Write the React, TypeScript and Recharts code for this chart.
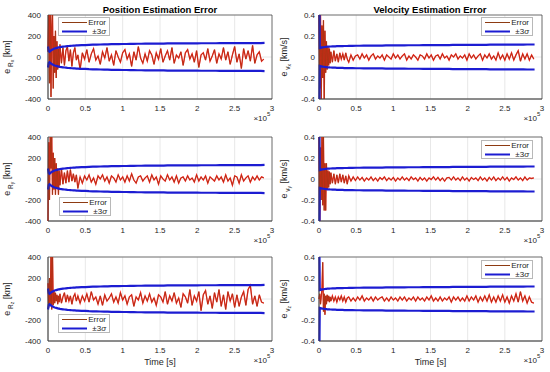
import { CartesianGrid, Line, LineChart, ReferenceArea, XAxis, YAxis } from "recharts";

// sample times in kiloseconds for the 3-sigma bounds
const SIGMA_TIME_KS = [
  0, 1, 2, 3, 4, 5, 6, 7, 8, 9, 10, 11, 12, 13, 14, 15, 16,
  18, 20, 22, 24, 26, 28, 30, 32, 34, 36, 38, 40,
  45, 50, 55, 60, 65, 70, 75, 80, 85, 90, 95, 100, 105, 110, 115, 120, 125, 130, 135, 140, 145,
  150, 155, 160, 165, 170, 175, 180, 185, 190, 195, 200, 205, 210, 215, 220, 225, 230, 235, 240, 245,
  250, 255, 260, 265, 270, 275, 280, 285, 290,
];

// sample times in kiloseconds for the estimation errors
const ERR_TIME_KS = [
  0, 1, 2, 3, 4, 5, 6, 7, 8, 9, 10, 11, 12, 13, 14, 15, 16,
  18, 20, 22, 24, 26, 28, 30, 32, 34, 36, 38, 40,
  43, 46, 49, 52, 55, 58, 61, 64, 67, 70,
  73, 76, 79, 82, 85, 88, 91, 94, 97, 100,
  103, 106, 109, 112, 115, 118, 121, 124, 127, 130,
  133, 136, 139, 142, 145, 148, 151, 154, 157, 160,
  163, 166, 169, 172, 175, 178, 181, 184, 187, 190,
  193, 196, 199, 202, 205, 208, 211, 214, 217, 220,
  223, 226, 229, 232, 235, 238, 241, 244, 247, 250,
  253, 256, 259, 262, 265, 268, 271, 274, 277, 280,
  283, 286, 289,
];

const X_TICKS = [0, 50000, 100000, 150000, 200000, 250000, 300000];
const POS_TICKS = [-400, -200, 0, 200, 400];
const VEL_TICKS = [-0.4, -0.2, 0, 0.2, 0.4];

// 3-sigma bounds
const POS_SIGMA3 = [
  100, 55, 50, 56, 62, 67, 71, 75, 78, 81, 83, 85, 87, 89, 91, 92, 94,
  96, 98, 100, 102, 104, 105, 106, 107, 108, 109, 110, 111,
  113, 114, 116, 117, 118, 119, 120, 121, 122, 122,
  123, 124, 124, 125, 125, 126, 126, 127, 127, 127,
  128, 128, 128, 129, 129, 129, 129, 130, 130, 130,
  130, 130, 131, 131, 131, 131, 131, 132, 132, 132,
  132, 132, 132, 133, 133, 133, 133, 133, 133, 134,
];

const VEL_SIGMA3 = [
  1.0, 0.085, 0.087, 0.089, 0.091, 0.092, 0.093, 0.094, 0.095, 0.096, 0.097, 0.098, 0.098, 0.099, 0.099, 0.1, 0.1,
  0.101, 0.102, 0.102, 0.103, 0.103, 0.104, 0.104, 0.104, 0.105, 0.105, 0.105, 0.106,
  0.106, 0.107, 0.107, 0.108, 0.108, 0.108, 0.109, 0.109, 0.109, 0.11,
  0.11, 0.11, 0.111, 0.111, 0.111, 0.112, 0.112, 0.112, 0.112, 0.113,
  0.113, 0.113, 0.113, 0.114, 0.114, 0.114, 0.114, 0.115, 0.115, 0.115,
  0.115, 0.115, 0.116, 0.116, 0.116, 0.116, 0.116, 0.117, 0.117, 0.117,
  0.117, 0.117, 0.118, 0.118, 0.118, 0.118, 0.118, 0.119, 0.119, 0.119,
];

// position errors [km]
const ERR_RX = [
  50, 420, -250, 450, -380, 300, 450, -300, 200, -150, 250, -200, 150, -120, 80, -100, 120,
  -60, 90, -80, 60, 100, -40, 70, -90, 40, 90, -30, 20,
  -120, 40, -20, 70, -50, 30, 80, -30, 10, -70,
  50, -10, 90, -40, 20, -80, 60, 0, -50, 40,
  70, -20, 30, -90, 50, -30, 100, -10, -60, 30,
  -40, 60, 20, -70, 40, -20, 80, -50, 10, 60,
  -30, 90, -60, 20, -10, 50, -80, 40, 70, -20,
  30, -50, 60, -100, 20, 40, -30, 80, -40, 10,
  70, -60, 30, -20, 90, -30, 50, -70, 20, 100,
  -50, 30, -110, 80, -20, 60, -40, 110, -60, 20,
  50, -40, -20,
];

const ERR_RY = [
  -400, 350, -200, 420, 100, 430, -150, 250, -100, 200, -150, 150, -80, 100, -150, 80, -60,
  100, -50, 60, -40, 80, -30, 90, -20, 50, -30, 40, -90,
  20, -40, 30, -10, 40, -30, 10, -50, 30, 0,
  40, -20, 20, -40, 30, 10, -30, 40, -10, 20,
  -30, 30, -20, 50, -10, -40, 20, 30, -20, 10,
  30, -30, 40, -10, 20, -50, 30, 0, -20, 40,
  -10, 20, -30, 30, -40, 10, 20, -20, 30, -10,
  10, -30, 40, -20, 20, -10, 30, -40, 20, 0,
  -20, 30, -10, 20, -30, 40, -20, 10, -60, 30,
  20, -40, 40, -20, 10, 30, -30, 20, -10, 30,
  -10, 20, 10,
];

const ERR_RZ = [
  150, -80, 200, -50, 420, -100, 450, -60, 80, -40, 60, -20, 40, -50, 30, -30, 50,
  -40, 20, 60, -30, 40, -20, 30, -50, 20, 50, -20, 30,
  -40, 30, -20, 50, -30, 70, -10, 20, -50, 30,
  -60, 40, -20, 10, 50, -30, 20, -40, 60, -10,
  30, -50, 20, 40, -70, 20, -10, 60, -40, 30,
  -20, 50, -30, 10, -60, 40, 20, -30, 70, -50,
  30, -20, 60, -40, 10, -80, 50, 20, -40, 90,
  -60, 30, -20, 70, -110, 40, 80, -50, 30, -90,
  60, -30, 90, -70, 40, -100, 70, -20, 50, -80,
  40, -70, 20, 70, -60, 90, 130, -50, 30, -70,
  40, -30, -40,
];

// velocity errors [km/s]
const ERR_VX = [
  0.45, -0.3, 0.45, -0.45, 0.3, -0.2, 0.35, -0.45, 0.25, -0.15, 0.15, -0.12, 0.1, -0.08, 0.08, -0.06, 0.05,
  -0.05, 0.06, -0.04, 0.03, -0.05, 0.04, -0.02, 0.03, -0.03, 0.04, -0.02, -0.05,
  0.02, -0.03, 0.01, 0.02, -0.02, 0.03, -0.01, 0.02, -0.03, 0.01,
  0.03, -0.02, 0.01, -0.01, 0.02, -0.03, 0.02, 0, -0.02, 0.03,
  -0.01, 0.02, -0.02, 0.01, 0.03, -0.03, 0.01, -0.02, 0.02, 0,
  -0.03, 0.02, 0.01, -0.02, 0.03, -0.01, 0.02, -0.03, 0.01, 0.02,
  -0.02, 0.03, -0.01, 0.01, -0.03, 0.02, 0, 0.03, -0.02, 0.01,
  -0.01, 0.02, -0.03, 0.03, -0.01, 0.02, -0.02, 0.01, 0.03, -0.03,
  0.02, -0.01, 0.03, -0.02, 0.01, -0.03, 0.04, -0.02, 0.02, -0.03,
  0.03, -0.02, 0.04, -0.03, 0.02, 0.06, -0.04, 0.03, -0.02, 0.03,
  -0.03, 0.02, -0.02,
];

const ERR_VY = [
  0.45, -0.45, 0.3, -0.2, 0.45, -0.25, 0.4, -0.3, 0.15, -0.3, 0.15, -0.1, 0.08, -0.08, 0.07, -0.05, 0.06,
  -0.04, 0.05, -0.05, 0.04, -0.04, 0.05, -0.03, 0.04, -0.04, 0.03, -0.05, 0.03,
  -0.02, 0.02, -0.015, 0.02, -0.01, 0.015, -0.02, 0.01, -0.01, 0.02,
  -0.015, 0.01, -0.02, 0.015, -0.005, 0.02, -0.015, 0.01, -0.01, 0.015,
  -0.02, 0.01, -0.01, 0.02, -0.01, 0.01, -0.015, 0.02, -0.005, 0.01,
  -0.02, 0.015, -0.01, 0.01, -0.02, 0.01, -0.005, 0.02, -0.01, 0.015,
  -0.015, 0.01, -0.02, 0.01, 0.015, -0.01, 0.02, -0.01, 0.01, -0.015,
  0.02, -0.01, 0.01, -0.02, 0.015, -0.005, 0.01, -0.015, 0.02, -0.01,
  0.01, -0.02, 0.015, -0.01, 0.02, -0.015, 0.01, -0.01, 0.02, -0.01,
  0.015, -0.02, 0.01, -0.005, 0.02, -0.01, 0.01, -0.015, 0.02, -0.01,
  0.01, 0.005, 0.01,
];

const ERR_VZ = [
  0, 0.05, -0.05, 0.02, 0.1, 0.35, -0.12, 0.05, -0.15, 0.03, -0.05, 0.04, -0.02, 0.03, -0.03, 0.02, -0.02,
  0.03, -0.02, 0.02, -0.03, 0.02, -0.01, 0.03, -0.02, 0.02, -0.03, 0.01, 0.02,
  -0.02, 0.01, -0.02, 0.02, -0.01, 0.03, -0.02, 0.01, -0.01, 0.02,
  -0.02, 0.02, -0.01, 0.01, 0.02, -0.02, 0.01, -0.02, 0.02, -0.01,
  0.01, -0.02, 0.02, -0.01, 0.02, -0.02, 0.01, -0.01, 0.02, -0.02,
  0.02, -0.01, 0.01, -0.02, 0.02, -0.01, 0.03, -0.02, 0.01, -0.02,
  0.02, -0.02, 0.01, -0.01, 0.02, -0.03, 0.02, -0.01, 0.02, -0.02,
  0.01, -0.02, 0.03, -0.02, 0.02, -0.01, 0.03, -0.03, 0.02, -0.02,
  0.03, -0.02, 0.04, -0.03, 0.02, -0.03, 0.03, -0.02, 0.04, -0.03,
  0.02, -0.04, 0.03, -0.02, 0.05, -0.03, 0.07, -0.02, 0.03, -0.04,
  0.02, -0.03, -0.04,
];

const FONT = '"Liberation Sans", Arial, Helvetica, sans-serif';
const BLUE = "#1c1cd2";
const RED = "#ff1f1f";
const BROWN = "#8e3b12";
const AXIS = "#404040";
const GRID = "#e2e2e2";

function errRows(err: number[]) {
  return ERR_TIME_KS.map((t, i) => ({ t: t * 1000, err: err[i] }));
}

function sigmaRows(sigma: number[]) {
  return SIGMA_TIME_KS.map((t, i) => ({ t: t * 1000, up: sigma[i], lo: -sigma[i] }));
}

function YLabel({ ax, cy, sub, comp, unit }: { ax: number; cy: number; sub: string; comp: string; unit: string }) {
  return (
    <text
      x={ax}
      y={cy}
      transform={`rotate(-90, ${ax}, ${cy})`}
      textAnchor="middle"
      fill="#262626"
      fontSize={9}
      fontFamily={FONT}
    >
      <tspan>e</tspan>
      <tspan dy={2.5} fontSize={6.5}>{" " + sub}</tspan>
      <tspan dy={1.8} fontSize={5}>{comp}</tspan>
      <tspan dy={-4.3} fontSize={9}>{" " + unit}</tspan>
    </text>
  );
}

function XLabel({ right, bottom, cx, time }: { right: number; bottom: number; cx: number; time: boolean }) {
  return (
    <g fontFamily={FONT} fill="#262626">
      <text x={right - 5} y={bottom + 22} textAnchor="end" fontSize={8}>
        ×10
      </text>
      <text x={right - 5} y={bottom + 17} fontSize={6}>
        5
      </text>
      {time && (
        <text x={cx} y={bottom + 24} textAnchor="middle" fontSize={9}>
          Time [s]
        </text>
      )}
    </g>
  );
}

function LegendBox({ left, top }: { left: number; top: number }) {
  const row = { display: "flex", alignItems: "center", height: 9 } as const;
  return (
    <div
      style={{
        position: "absolute",
        left,
        top,
        width: 52,
        height: 19,
        background: "#fff",
        border: "1px solid #b8b8b8",
        boxSizing: "border-box",
        padding: "0 3px",
        fontSize: 8,
        color: "#262626",
        lineHeight: "9px",
      }}
    >
      <div style={row}>
        <svg width={25} height={9}>
          <line x1={0} y1={4.5} x2={25} y2={4.5} stroke={BROWN} strokeWidth={1} />
        </svg>
        <span style={{ marginLeft: "auto" }}>Error</span>
      </div>
      <div style={row}>
        <svg width={25} height={9}>
          <line x1={0} y1={4.5} x2={25} y2={4.5} stroke={BLUE} strokeWidth={2} />
        </svg>
        <span style={{ marginLeft: "auto" }}>
          ±3<i>σ</i>
        </span>
      </div>
    </div>
  );
}

type PanelProps = {
  left: number;
  top: number;
  height: number;
  col: 0 | 1;
  err: number[];
  sigma: number[];
  ticks: number[];
  sub: string;
  comp: string;
  unit: string;
  legend: [number, number];
  time?: boolean;
};

function Panel({ left, top, height, col, err, sigma, ticks, sub, comp, unit, legend, time = false }: PanelProps) {
  const width = 275;
  const yWidth = col === 0 ? 48 : 44;
  const mRight = col === 0 ? 3 : 8;
  const mTop = 15;
  const plotH = 84;
  const xH = 22;
  const mBottom = height - mTop - plotH - xH;
  const plotRight = width - mRight;
  const plotBottom = mTop + plotH;
  const cx = (yWidth + plotRight) / 2;
  const eData = errRows(err);
  const sData = sigmaRows(sigma);
  const domain: [number, number] = [ticks[0], ticks[ticks.length - 1]];
  return (
    <div style={{ position: "absolute", left, top, width, height }}>
      <LineChart width={width} height={height} margin={{ top: mTop, right: mRight, bottom: mBottom, left: 0 }}>
        <CartesianGrid stroke={GRID} strokeWidth={0.8} horizontalValues={ticks} verticalValues={X_TICKS} />
        <XAxis
          dataKey="t"
          type="number"
          domain={[0, 300000]}
          ticks={X_TICKS}
          allowDuplicatedCategory={false}
          tickFormatter={(v) => `${Number(v) / 100000}`}
          tick={{ fontSize: 8, fill: "#262626", fontFamily: FONT }}
          tickLine={false}
          tickSize={0}
          tickMargin={6}
          height={xH}
          axisLine={{ stroke: AXIS, strokeWidth: 0.7 }}
          label={<XLabel right={plotRight} bottom={plotBottom} cx={cx} time={time} />}
        />
        <YAxis
          type="number"
          domain={domain}
          ticks={ticks}
          allowDataOverflow
          width={yWidth}
          tick={{ fontSize: 8, fill: "#262626", fontFamily: FONT }}
          tickLine={false}
          tickSize={0}
          tickMargin={col === 0 ? 7 : 4}
          axisLine={{ stroke: AXIS, strokeWidth: 0.7 }}
          label={<YLabel ax={col === 0 ? 10 : 12} cy={mTop + plotH / 2} sub={sub} comp={comp} unit={unit} />}
        />
        <ReferenceArea
          x1={0}
          x2={300000}
          y1={domain[0]}
          y2={domain[1]}
          fill="none"
          stroke={AXIS}
          strokeWidth={0.7}
        />
        <Line data={eData} dataKey="err" type="linear" stroke={RED} strokeWidth={1.3} dot={false} activeDot={false} isAnimationActive={false} />
        <Line data={eData} dataKey="err" type="linear" stroke={BROWN} strokeWidth={0.6} dot={false} activeDot={false} isAnimationActive={false} />
        <Line data={sData} dataKey="up" type="linear" stroke={BLUE} strokeWidth={2.2} dot={false} activeDot={false} isAnimationActive={false} />
        <Line data={sData} dataKey="lo" type="linear" stroke={BLUE} strokeWidth={2.2} dot={false} activeDot={false} isAnimationActive={false} />
      </LineChart>
      <LegendBox left={legend[0]} top={legend[1]} />
    </div>
  );
}

function Title({ text, cx }: { text: string; cx: number }) {
  return (
    <div
      style={{
        position: "absolute",
        left: cx - 80,
        top: 4,
        width: 160,
        textAlign: "center",
        fontWeight: "bold",
        fontSize: 9.5,
        lineHeight: "12px",
        color: "#000",
      }}
    >
      {text}
    </div>
  );
}

export default function App() {
  return (
    <div
      style={{
        position: "fixed",
        left: 0,
        top: 0,
        width: 550,
        height: 372,
        background: "#fff",
        fontFamily: FONT,
        overflow: "hidden",
      }}
    >
      <Panel left={0} top={0} height={124} col={0} err={ERR_RX} sigma={POS_SIGMA3} ticks={POS_TICKS} sub="R" comp="x" unit="[km]" legend={[58, 17]} />
      <Panel left={275} top={0} height={124} col={1} err={ERR_VX} sigma={VEL_SIGMA3} ticks={VEL_TICKS} sub="v" comp="x" unit="[km/s]" legend={[206, 17]} />
      <Panel left={0} top={122} height={124} col={0} err={ERR_RY} sigma={POS_SIGMA3} ticks={POS_TICKS} sub="R" comp="y" unit="[km]" legend={[59, 75]} />
      <Panel left={275} top={122} height={124} col={1} err={ERR_VY} sigma={VEL_SIGMA3} ticks={VEL_TICKS} sub="v" comp="y" unit="[km/s]" legend={[206, 18]} />
      <Panel left={0} top={242} height={130} col={0} err={ERR_RZ} sigma={POS_SIGMA3} ticks={POS_TICKS} sub="R" comp="z" unit="[km]" legend={[58, 72]} time />
      <Panel left={275} top={242} height={130} col={1} err={ERR_VZ} sigma={VEL_SIGMA3} ticks={VEL_TICKS} sub="v" comp="z" unit="[km/s]" legend={[206, 18]} time />
      <Title text="Position Estimation Error" cx={160} />
      <Title text="Velocity Estimation Error" cx={430} />
    </div>
  );
}
